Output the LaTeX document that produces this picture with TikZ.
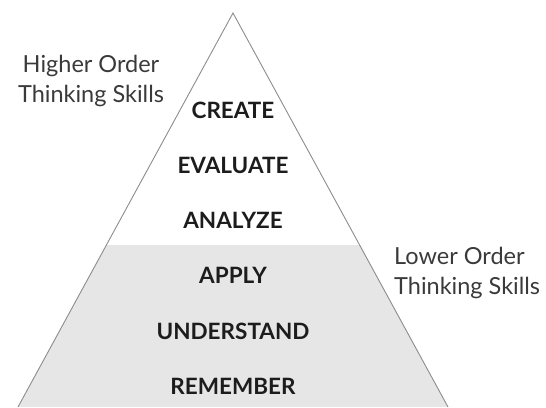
\documentclass[tikz,border=0pt]{standalone}
\usepackage{fontspec}
\setmainfont{Lato}
\usetikzlibrary{positioning}
\definecolor{lowgray}{HTML}{E6E6E6}
\definecolor{edgegray}{HTML}{8C8C8C}
\definecolor{textdark}{HTML}{1C1C1C}
\definecolor{sidetext}{HTML}{3A3A3A}
\begin{document}
\begin{tikzpicture}[x=1pt,y=-1pt,
  level/.style={font=\fontsize{22.5}{26}\selectfont\bfseries, text=textdark, inner sep=0pt},
  side/.style={font=\fontsize{23.5}{30}\selectfont, text=sidetext, inner sep=0pt}]
\useasboundingbox (0,0) rectangle (546,407);
% Pyramid corners
\coordinate (apex) at (233,13);
\coordinate (baseL) at (18,407);
\coordinate (baseR) at (448,407);
% Lower order band
\begin{scope}
  \clip (apex) -- (baseL) -- (baseR) -- cycle;
  \fill[lowgray] (0,245) rectangle (546,407);
\end{scope}
\draw[edgegray, line width=0.9pt] (baseL) -- (apex) -- (baseR);
% Levels
\node[level] (create) at (233,110) {CREATE};
\node[level] (evaluate) at (233,165) {EVALUATE};
\node[level] (analyze) at (233,220) {ANALYZE};
\node[level] (apply) at (233,275) {APPLY};
\node[level] (understand) at (233,331) {UNDERSTAND};
\node[level] (remember) at (233,386) {REMEMBER};
% Side labels
\node[side, align=center] (higher) at (91,81) {Higher Order\\Thinking Skills};
\node[side, align=left, anchor=west] (lower) at (394,273) {Lower Order\\Thinking Skills};
\end{tikzpicture}
\end{document}
